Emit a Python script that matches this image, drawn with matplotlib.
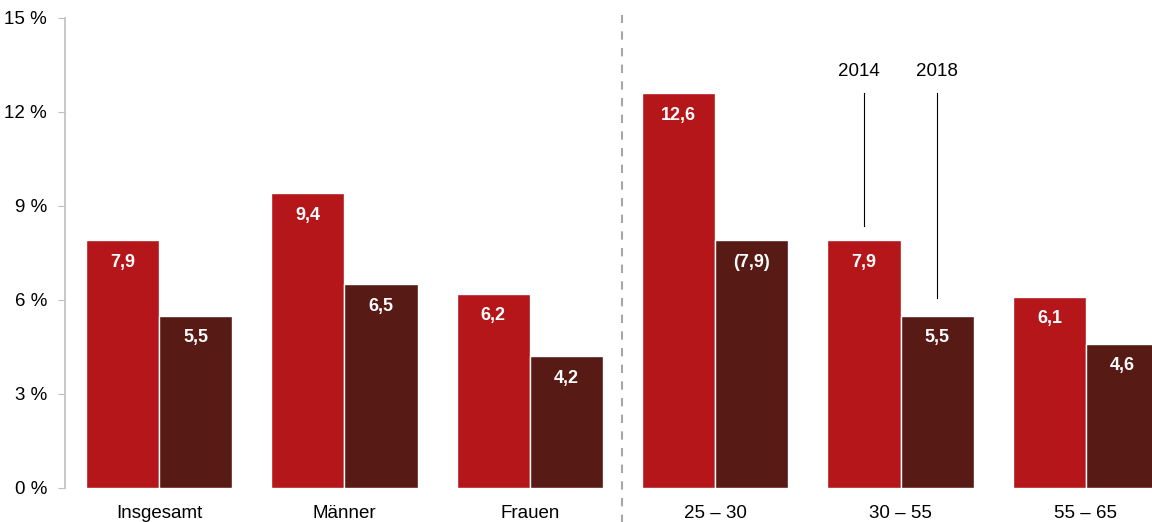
import numpy as np
import matplotlib.pyplot as plt

plt.rcParams["font.family"] = ["Liberation Sans", "DejaVu Sans"]

categories = ["Insgesamt", "Männer", "Frauen", "25 – 30", "30 – 55", "55 – 65"]
values_2014 = [7.9, 9.4, 6.2, 12.6, 7.9, 6.1]
values_2018 = [5.5, 6.5, 4.2, 7.9, 5.5, 4.6]
labels_2014 = ["7,9", "9,4", "6,2", "12,6", "7,9", "6,1"]
labels_2018 = ["5,5", "6,5", "4,2", "(7,9)", "5,5", "4,6"]
yticks = [0, 3, 6, 9, 12, 15]

red = "#B41619"
dark = "#571A15"
grey = "#BFBFBF"

fig = plt.figure(figsize=(11.52, 5.22), dpi=100)
ax = fig.add_axes([65 / 1152, 1 - 488 / 522, 1 - 65 / 1152, (488 - 18) / 522])

x = np.arange(len(categories))
w = 0.395
b1 = ax.bar(x - w / 2, values_2014, width=w, color=red, edgecolor="white", linewidth=1)
b2 = ax.bar(x + w / 2, values_2018, width=w, color=dark, edgecolor="white", linewidth=1)

for rects, labels in ((b1, labels_2014), (b2, labels_2018)):
    for r, lab in zip(rects, labels):
        ax.annotate(lab, (r.get_x() + r.get_width() / 2, r.get_height()),
                    xytext=(0, -22), textcoords="offset pixels",
                    ha="center", va="center", color="white", fontsize=13, fontweight="bold")

# separator between total/gender and age groups
ax.plot([2.5, 2.5], [-1.2, 15.1], color="#A6A6A6", linestyle=(0, (4, 4)), linewidth=1.5,
        clip_on=False)

# legend callouts
i = categories.index("30 – 55")
ax.plot([i - w / 2, i - w / 2], [8.35, 12.6], color="black", linewidth=0.8)
ax.plot([i + w / 2, i + w / 2], [6.05, 12.6], color="black", linewidth=0.8)
ax.text(i - w / 2 - 0.03, 13.3, "2014", ha="center", va="center", fontsize=13.5)
ax.text(i + w / 2, 13.3, "2018", ha="center", va="center", fontsize=13.5)

ax.set_xlim(-0.507, 5.356)
ax.set_ylim(0, 15)
ax.set_yticks(yticks)
ax.set_yticklabels([f"{t} %" for t in yticks], fontsize=13.5)
ax.set_xticks(x)
ax.set_xticklabels(categories, fontsize=13.5)
ax.tick_params(axis="x", length=0, pad=12)
ax.tick_params(axis="y", length=5, color=grey, pad=8)

for s in ("top", "right", "bottom"):
    ax.spines[s].set_visible(False)
ax.spines["left"].set_color(grey)
ax.spines["left"].set_linewidth(1.2)

fig.savefig("out.png", dpi=100)
